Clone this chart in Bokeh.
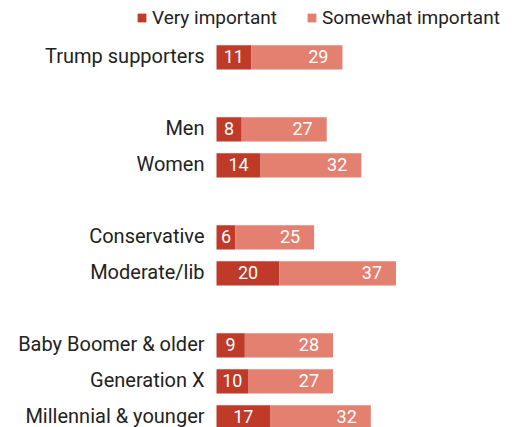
from bokeh.plotting import figure
from bokeh.models import Range1d, ColumnDataSource, Legend, LegendItem
from bokeh.embed import file_html
from bokeh.resources import INLINE
from bokeh.core.properties import value

groups = [
    ["Trump supporters"],
    ["Men", "Women"],
    ["Conservative", "Moderate/lib"],
    ["Baby Boomer & older", "Generation X", "Millennial & younger"],
]
very = [11, 8, 14, 6, 20, 9, 10, 17]
somewhat = [29, 27, 32, 25, 37, 28, 27, 32]
series_names = ["Very important", "Somewhat important"]

DARK = "#bf3a29"
LIGHT = "#e38070"
FONT = "Roboto"

categories = []
ypos = []
pos = 0
for g in groups:
    for c in g:
        categories.append(c)
        ypos.append(pos)
        pos += 1
    pos += 1

total = [v + s for v, s in zip(very, somewhat)]
src = ColumnDataSource(dict(
    cat=categories, y=ypos, very=very, somewhat=somewhat, total=total,
    vmid=[v / 2 for v in very],
    vtxt=[str(v) for v in very], stxt=[str(s) for s in somewhat],
))

p = figure(width=512, height=427, output_backend="svg", toolbar_location=None,
           x_range=Range1d(-68.6, 94.0), y_range=Range1d(10.28, -1.58),
           min_border=0, min_border_left=0, min_border_right=0,
           min_border_top=0, min_border_bottom=0)
p.axis.visible = False
p.grid.visible = False
p.outline_line_color = None
p.background_fill_color = "white"

r1 = p.hbar(y="y", left=0, right="very", height=0.67, source=src,
            fill_color=DARK, line_color=None)
r2 = p.hbar(y="y", left="very", right="total", height=0.67, source=src,
            fill_color=LIGHT, line_color=None)

p.text(x=0, y="y", text="cat", source=src, x_offset=-12, y_offset=-1,
       text_align="right", text_baseline="middle", text_font=value(FONT),
       text_font_size="20px", text_color="#222222")
p.text(x="vmid", y="y", text="vtxt", source=src, text_align="center", y_offset=-1,
       text_baseline="middle", text_font=value(FONT), text_font_size="18px",
       text_color="white")
p.text(x="total", y="y", text="stxt", source=src, x_offset=-14, y_offset=-1,
       text_align="right", text_baseline="middle", text_font=value(FONT),
       text_font_size="18px", text_color="white")

legend = Legend(items=[LegendItem(label=series_names[0], renderers=[r1]),
                       LegendItem(label=series_names[1], renderers=[r2])],
                orientation="horizontal", location=(136, 398),
                glyph_width=11, glyph_height=11, label_standoff=5, spacing=29,
                padding=0, margin=0, border_line_color=None,
                background_fill_alpha=0, label_text_font=FONT,
                label_text_font_size="19px", label_text_color="#222222",
                label_height=20)
p.add_layout(legend, "center")

open("out.html", "w").write(file_html(p, INLINE))
